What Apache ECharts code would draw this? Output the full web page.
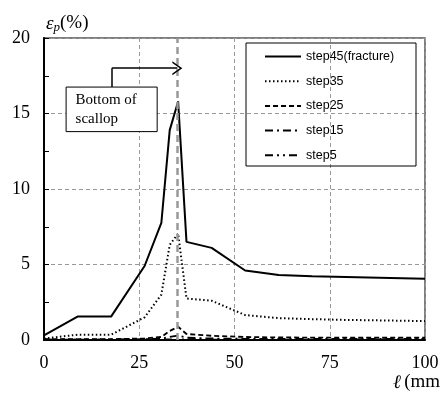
<!DOCTYPE html>
<html>
<head>
<meta charset="utf-8">
<script src="https://cdn.jsdelivr.net/npm/echarts@6/dist/echarts.min.js"></script>
<style>
  html, body { margin: 0; padding: 0; background: #fff; }
  #chart { width: 440px; height: 394px; }
</style>
</head>
<body>
<div id="chart"></div>
<script>
// positions along the path (mm)
const xs = [0, 8.8, 17.6, 26.4, 30.8, 33, 35.2, 37.4, 44, 52.8, 61.6, 70.4, 79.2, 88, 100];

const step45 = [0.3, 1.55, 1.55, 4.9, 7.75, 13.9, 15.8, 6.5, 6.1, 4.6, 4.3, 4.22, 4.17, 4.12, 4.05];
const step35 = [0.1, 0.35, 0.35, 1.5, 3.0, 6.3, 7.05, 2.75, 2.6, 1.65, 1.45, 1.38, 1.33, 1.3, 1.25];
const step25 = [0.05, 0.05, 0.05, 0.1, 0.2, 0.6, 0.88, 0.4, 0.28, 0.2, 0.17, 0.16, 0.15, 0.15, 0.15];
const step15 = [0.03, 0.03, 0.03, 0.05, 0.1, 0.2, 0.3, 0.15, 0.1, 0.08, 0.07, 0.07, 0.07, 0.07, 0.07];
const step5 = [0.02, 0.02, 0.02, 0.02, 0.03, 0.04, 0.05, 0.04, 0.03, 0.03, 0.03, 0.03, 0.03, 0.03, 0.03];

const scallopX = 35;
const noteBox = [[5.8, 16.75], [29.7, 13.8]];
const arrowPath = [[17.8, 16.75], [17.8, 18], [35, 18]];

const pair = (ys) => xs.map((x, i) => [x, ys[i]]);

const chart = echarts.init(document.getElementById('chart'), null, { renderer: 'canvas' });

const serif = 'Liberation Serif';

const lines = [
  { name: 'step45(fracture)', data: step45, lineStyle: { width: 2, type: 'solid' } },
  { name: 'step35', data: step35, lineStyle: { width: 2, type: [1.5, 2.5] } },
  { name: 'step25', data: step25, lineStyle: { width: 1.8, type: [5, 3] } },
  { name: 'step15', data: step15, lineStyle: { width: 1.8, type: [8, 4, 2, 4] } },
  { name: 'step5', data: step5, lineStyle: { width: 1.8, type: [8, 4, 2, 4, 2, 4] } },
];

const series = lines.map((l) => ({
  name: l.name,
  type: 'line',
  data: pair(l.data),
  symbol: 'none',
  lineStyle: Object.assign({ color: '#000' }, l.lineStyle),
  itemStyle: { color: '#000' },
  animation: false,
  z: 3,
}));

// annotations: scallop line, callout box, arrow
series.push({
  name: 'annot',
  type: 'line',
  data: [],
  silent: true,
  animation: false,
  markLine: {
    silent: true,
    animation: false,
    label: { show: false },
    data: [
      [
        { coord: [scallopX, 0], symbol: 'none', lineStyle: { color: '#999', width: 2.5, type: [7, 4] } },
        { coord: [scallopX, 20], symbol: 'none' },
      ],
      [
        { coord: arrowPath[0], symbol: 'none', lineStyle: { color: '#000', width: 1.5, type: 'solid' } },
        { coord: arrowPath[1], symbol: 'none' },
      ],
      [
        { coord: arrowPath[1], symbol: 'none', lineStyle: { color: '#000', width: 1.5, type: 'solid' } },
        { coord: arrowPath[2], symbol: 'path://M0,10 L5,0 L10,10 L8.8,10 L5,2.6 L1.2,10 Z', symbolSize: [14, 10] },
      ],
    ],
  },
  markArea: {
    silent: true,
    animation: false,
    itemStyle: { color: '#fff', borderColor: '#000', borderWidth: 1 },
    label: {
      show: true,
      position: 'insideLeft',
      distance: 10,
      fontFamily: serif,
      fontSize: 15,
      lineHeight: 19,
      color: '#000',
      formatter: 'Bottom of\nscallop',
    },
    data: [[{ coord: noteBox[0] }, { coord: noteBox[1] }]],
  },
});

const option = {
  backgroundColor: '#fff',
  animation: false,
  grid: {
    left: 44, right: 15, top: 38, bottom: 54,
    outerBoundsMode: 'none',
    show: true, borderColor: '#555', borderWidth: 1.5,
  },
  legend: {
    data: lines.map((l) => l.name),
    orient: 'vertical',
    left: 259,
    top: 45,
    itemWidth: 36,
    itemHeight: 14,
    itemGap: 11.7,
    itemStyle: { opacity: 0, color: 'rgba(0,0,0,0)', borderWidth: 0 },
    textStyle: { fontFamily: 'Liberation Sans', fontSize: 12.5, color: '#000' },
    selectedMode: false,
  },
  graphic: [
    {
      type: 'rect',
      shape: { x: 246, y: 43, width: 170, height: 123 },
      style: { fill: 'rgba(255,255,255,0)', stroke: '#000', lineWidth: 1 },
      z: 100,
      silent: true,
    },
  ],
  xAxis: {
    type: 'value',
    min: 0,
    max: 100,
    interval: 25,
    name: '{l|ℓ} {n|(mm)}',
    nameLocation: 'end',
    nameGap: -32,
    nameTextStyle: {
      verticalAlign: 'top',
      padding: [33, 0, 0, 0],
      rich: {
        l: { fontFamily: serif, fontSize: 19, fontStyle: 'italic', color: '#000' },
        n: { fontFamily: serif, fontSize: 19, color: '#000' },
      },
    },
    axisLine: { onZero: false, lineStyle: { color: '#000', width: 2 } },
    axisTick: { show: false },
    axisLabel: { fontFamily: serif, fontSize: 18, color: '#000', margin: 14 },
    splitLine: { show: true, lineStyle: { color: '#999', type: [4, 3], width: 1 } },
  },
  yAxis: {
    type: 'value',
    min: 0,
    max: 20,
    interval: 5,
    name: '{e|ε}{p|p}{n|(%)}',
    nameLocation: 'end',
    nameGap: 4,
    nameTextStyle: {
      align: 'left',
      padding: [0, 0, 0, 2],
      rich: {
        e: { fontFamily: serif, fontSize: 19, fontStyle: 'italic', color: '#000' },
        p: { fontFamily: serif, fontSize: 13, fontStyle: 'italic', color: '#000', padding: [8, 0, 0, 0] },
        n: { fontFamily: serif, fontSize: 19, color: '#000' },
      },
    },
    axisLine: { show: true, lineStyle: { color: '#000', width: 2 } },
    axisTick: { show: true, inside: true, length: 5, lineStyle: { color: '#000' } },
    minorTick: { show: true, splitNumber: 2, length: 5, lineStyle: { color: '#000' } },
    axisLabel: { fontFamily: serif, fontSize: 18, color: '#000', margin: 14 },
    splitLine: { show: true, lineStyle: { color: '#999', type: [4, 3], width: 1 } },
  },
  series,
};

chart.setOption(option);
</script>
</body>
</html>
